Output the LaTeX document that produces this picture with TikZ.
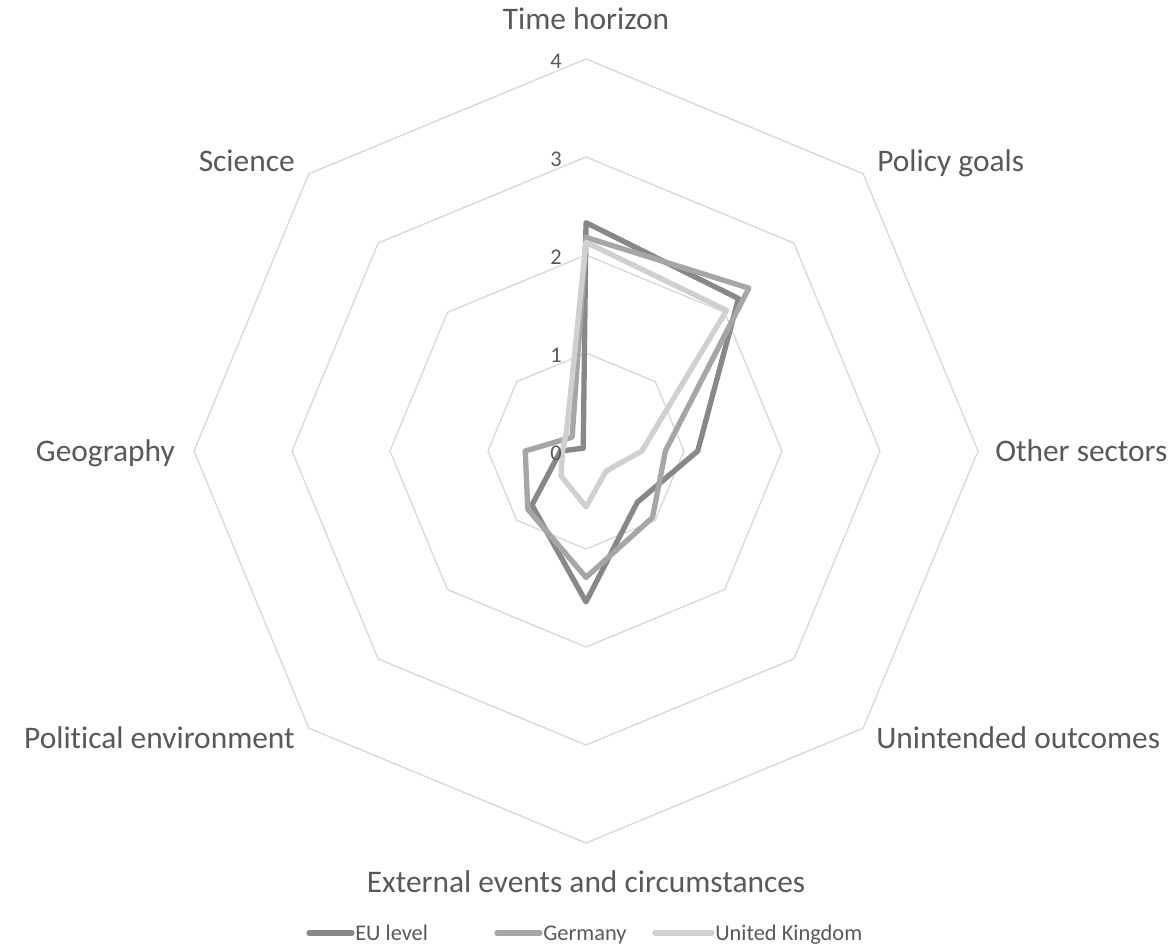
\documentclass[tikz,border=0pt]{standalone}
\usepackage{fontspec}
\setmainfont[Ligatures=NoCommon]{Carlito}
\definecolor{txt}{HTML}{595959}
\definecolor{gridc}{HTML}{D9D9D9}
\definecolor{euc}{HTML}{888888}
\definecolor{dec}{HTML}{A6A6A6}
\definecolor{ukc}{HTML}{D0D0D0}
\begin{document}
\begin{tikzpicture}[x=0.75pt,y=0.75pt,
  catlabel/.style={text=txt, font=\fontsize{23.55}{28}\selectfont, inner sep=0pt},
  vallabel/.style={text=txt, font=\fontsize{16.8}{20}\selectfont, inner sep=0pt, anchor=east},
  leglabel/.style={text=txt, font=\fontsize{16.8}{20}\selectfont, inner sep=0pt, anchor=base west},
  gridline/.style={draw=gridc, line width=1pt},
  series/.style={line width=4pt, line join=round, line cap=round},
  legkey/.style={line width=4pt, line cap=round}]
\useasboundingbox (0,0) rectangle (1175,947);
\fill[white] (0,0) rectangle (1175,947);
\coordinate (C) at (586,496);
\begin{scope}[shift={(586,496)}]
\begin{scope}[x=73.5pt,y=73.5pt]
  \foreach \k in {1,2,3,4}{
    \draw[gridline] (90:\k) -- (45:\k) -- (0:\k) -- (-45:\k) -- (-90:\k) -- (-135:\k) -- (180:\k) -- (135:\k) -- cycle;
  }
  \draw[series, draw=euc] (90:2.33) -- (45:2.2) -- (0:1.14) -- (-45:0.74) -- (-90:1.54) -- (-135:0.78) -- (180:0.26) -- (135:0.04) -- cycle;
  \draw[series, draw=dec] (90:2.18) -- (45:2.35) -- (0:0.81) -- (-45:0.96) -- (-90:1.29) -- (-135:0.84) -- (180:0.62) -- (135:0.2) -- cycle;
  \draw[series, draw=ukc] (90:2.13) -- (45:2.03) -- (0:0.57) -- (-45:0.29) -- (-90:0.57) -- (-135:0.36) -- (180:0.24) -- (135:0.28) -- cycle;
\end{scope}
\end{scope}
% value axis labels
\node[vallabel] (v0) at (562,494) {0};
\node[vallabel] (v1) at (562,592) {1};
\node[vallabel] (v2) at (562,690) {2};
\node[vallabel] (v3) at (562,788) {3};
\node[vallabel] (v4) at (562,886) {4};
% category labels
\node[catlabel, anchor=base] (time) at (586,917) {Time horizon};
\node[catlabel, anchor=base west] (policy) at (877,775) {Policy goals};
\node[catlabel, anchor=base west] (other) at (995,485) {Other sectors};
\node[catlabel, anchor=base west] (unint) at (876,199) {Unintended outcomes};
\node[catlabel, anchor=base] (ext) at (586,55) {External events and circumstances};
\node[catlabel, anchor=base east] (polit) at (295,199) {Political environment};
\node[catlabel, anchor=base east] (geo) at (175,485) {Geography};
\node[catlabel, anchor=base east] (sci) at (295,775) {Science};
% legend
\draw[legkey, draw=euc] (309,14) -- (352,14);
\node[leglabel] (leu) at (355,7) {EU level};
\draw[legkey, draw=dec] (497,14) -- (540,14);
\node[leglabel] (lde) at (543,7) {Germany};
\draw[legkey, draw=ukc] (655,14) -- (712,14);
\node[leglabel] (luk) at (715,7) {United Kingdom};
\end{tikzpicture}
\end{document}
